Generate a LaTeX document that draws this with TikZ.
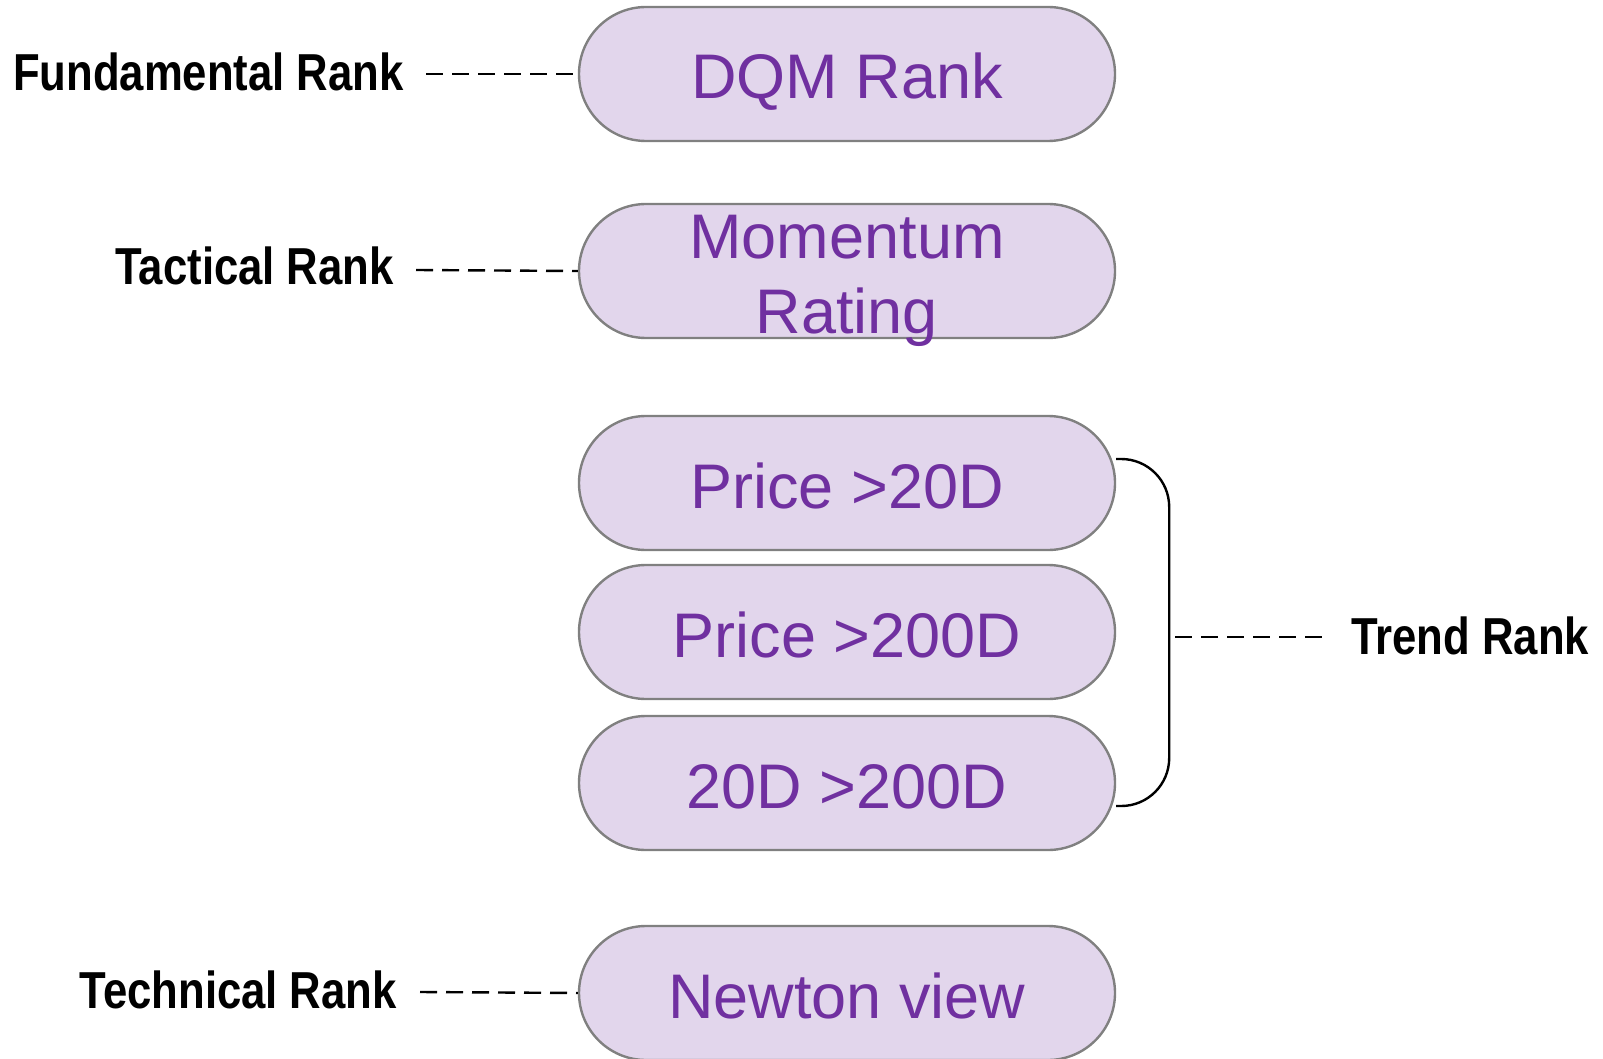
\documentclass[tikz,border=0pt]{standalone}
\usepackage{fontspec}
\setmainfont{Liberation Sans}
\newfontfamily\narrowfont{Liberation Sans}[FakeStretch=0.84]
\usepackage{tikz}
\usetikzlibrary{arrows}

\definecolor{boxfill}{HTML}{E2D6EC}
\definecolor{boxline}{HTML}{808080}
\definecolor{boxtext}{HTML}{7030A0}

\tikzset{
  rankbox/.style={draw=boxline,line width=2.4pt,fill=boxfill,rounded corners=67pt,
    minimum width=536pt,minimum height=134pt,inner sep=0pt,align=center,
    text=boxtext,font=\fontsize{63}{75}\selectfont,text height=50pt,text depth=0pt},
  ranklabel/.style={inner sep=0pt,font=\narrowfont\bfseries\fontsize{52}{60}\selectfont},
  rankdash/.style={line width=2.4pt,dash pattern=on 17pt off 9pt}
}

\begin{document}
\begin{tikzpicture}[line cap=butt,line join=round,x=1pt,y=-1pt]

\useasboundingbox (0,0) rectangle (1603,1059);

\node[rankbox] (dqm) at (847,74) {DQM Rank};
\node[rankbox,text height=124pt] (momentum) at (847,271) {Momentum\\Rating};
\node[rankbox] (pricea) at (847,483) {Price >20D};
\node[rankbox] (priceb) at (847,632) {Price >200D};
\node[rankbox] (cross) at (847,783) {20D >200D};
\node[rankbox] (newton) at (847,993) {Newton view};

\node[ranklabel,anchor=east] (fundamental) at (404,72) {Fundamental Rank};
\node[ranklabel,anchor=east] (tactical) at (394,266) {Tactical Rank};
\node[ranklabel,anchor=east] (technical) at (397,990) {Technical Rank};
\node[ranklabel,anchor=west] (trend) at (1351,636) {Trend Rank};

\draw [rankdash] (fundamental.east)+(22,2) -- (dqm.west);
\draw [rankdash] (tactical.east)+(22,4) -- (momentum.west);
\draw [rankdash] (technical.east)+(23,2) -- (newton.west);

\draw [line width=2.4pt,rounded corners=48pt] (pricea.east)++(0,-24) coordinate (bracetop)
  -- ++(53,0) |- ([yshift=-23pt]cross.east) coordinate (bracebot);
\coordinate (bracemid) at (1168,637);
\draw [rankdash] (bracemid)+(7,0) -- ([xshift=-24pt]trend.west |- bracemid);

\end{tikzpicture}
\end{document}
